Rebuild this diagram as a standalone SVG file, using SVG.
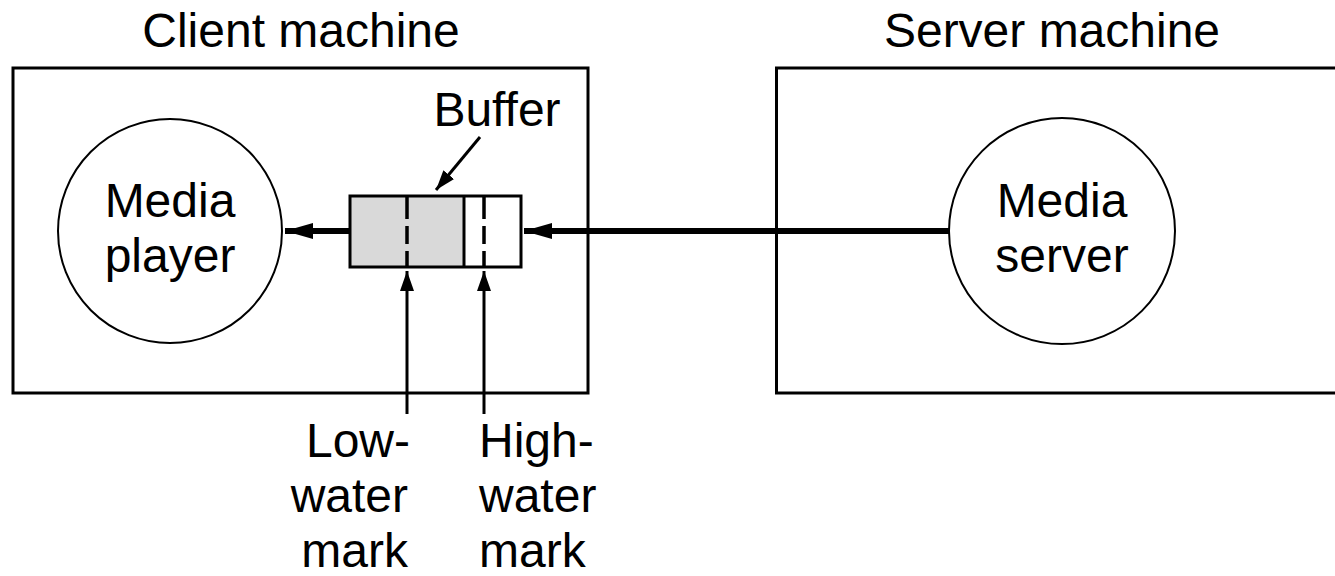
<svg xmlns="http://www.w3.org/2000/svg" width="1335" height="576" viewBox="0 0 1335 576">
<style>
text{font-family:"Liberation Sans",Arial,sans-serif;font-size:48px;fill:#000}
.box{fill:none;stroke:#000;stroke-width:3}
.circ{fill:#fff;stroke:#000;stroke-width:2}
.thick{stroke:#000;stroke-width:6;fill:none}
.thin{stroke:#000;stroke-width:3;fill:none}
.dash{stroke:#000;stroke-width:3.5;fill:none}
</style>
<defs>
<marker id="bigHead" markerUnits="userSpaceOnUse" markerWidth="30" markerHeight="20" refX="28" refY="10" orient="auto">
<path d="M0,2 L28,10 L0,18 Z" fill="#000"/>
</marker>
<marker id="smallHead" markerUnits="userSpaceOnUse" markerWidth="22" markerHeight="16" refX="20" refY="8" orient="auto">
<path d="M0,1 L20,8 L0,15 Z" fill="#000"/>
</marker>
</defs>
<g id="client">
<rect class="box" x="13" y="68" width="575" height="325"/>
<text x="301" y="47" text-anchor="middle">Client machine</text>
</g>
<g id="server">
<rect class="box" x="776.5" y="68" width="570" height="325"/>
<text x="1052" y="47" text-anchor="middle">Server machine</text>
</g>
<g id="player">
<circle class="circ" cx="170" cy="231" r="112"/>
<text x="170" y="217" text-anchor="middle">Media</text>
<text x="170" y="272" text-anchor="middle">player</text>
</g>
<g id="mediaserver">
<circle class="circ" cx="1062" cy="231" r="113"/>
<text x="1062" y="217" text-anchor="middle">Media</text>
<text x="1062" y="272" text-anchor="middle">server</text>
</g>
<g id="buffer">
<rect x="350" y="196" width="114" height="71" fill="#d9d9d9"/>
<rect class="box" x="350" y="196" width="171" height="71"/>
<line x1="464" y1="196" x2="464" y2="267" stroke="#000" stroke-width="3"/>
<path class="dash" d="M407,196 V219 M407,226 V244 M407,251 V267"/>
<path class="dash" d="M484,196 V219 M484,226 V244 M484,251 V267"/>
<text x="497" y="126" text-anchor="middle">Buffer</text>
</g>
<g id="connectors">
<line class="thick" x1="350" y1="231" x2="285" y2="231" marker-end="url(#bigHead)"/>
<line class="thick" x1="949" y1="231" x2="524" y2="231" marker-end="url(#bigHead)"/>
<line class="thin" x1="480" y1="137" x2="436" y2="190" marker-end="url(#smallHead)"/>
<line class="thin" x1="407" y1="414" x2="407" y2="271" marker-end="url(#smallHead)"/>
<line class="thin" x1="484" y1="414" x2="484" y2="271" marker-end="url(#smallHead)"/>
</g>
<g id="labels">
<text x="410" y="457" text-anchor="end">Low-</text>
<text x="408" y="512" text-anchor="end">water</text>
<text x="408" y="567" text-anchor="end">mark</text>
<text x="479" y="457">High-</text>
<text x="479" y="512">water</text>
<text x="479" y="567">mark</text>
</g>
</svg>
